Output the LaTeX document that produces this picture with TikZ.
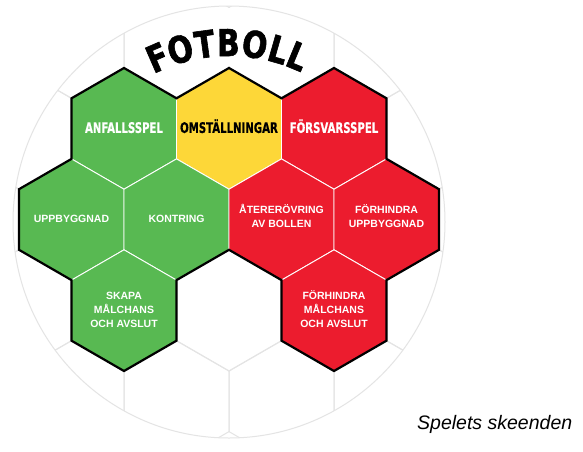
\documentclass[tikz,border=0pt]{standalone}
\usepackage{fontspec}
\newfontfamily\titlefont[FakeStretch=0.8,FakeBold=1.6]{DejaVu Sans}
\newfontfamily\headfont[FakeStretch=0.7,FakeBold=0.6]{DejaVu Sans}
\newfontfamily\bodyfont{Liberation Sans}
\usetikzlibrary{calc}
\definecolor{hgreen}{RGB}{88,185,82}
\definecolor{hyellow}{RGB}{253,215,56}
\definecolor{hred}{RGB}{236,28,46}
\definecolor{gridgrey}{RGB}{228,228,228}
\newcommand\hexpath[2]{({#1},{#2-60.6}) -- ({#1+52.5},{#2-30.3}) -- ({#1+52.5},{#2+30.3}) -- ({#1},{#2+60.6}) -- ({#1-52.5},{#2+30.3}) -- ({#1-52.5},{#2-30.3}) -- cycle}
\tikzset{
  gridline/.style={draw=gridgrey, line width=1pt},
  hexcell/.style={draw=white, line width=0.9pt},
  outline/.style={draw=black, line width=2.2pt, line join=miter},
  headlbl/.style={inner sep=0pt, anchor=south, font=\headfont\bfseries\fontsize{14.5}{16}\selectfont},
  bodylbl/.style={inner sep=0pt, anchor=south, align=center, text=white, font=\bodyfont\bfseries\fontsize{10.5}{13.8}\selectfont},
  titleletter/.style={inner sep=0pt, anchor=base, font=\titlefont\bfseries\fontsize{37}{40}\selectfont},
  captionlbl/.style={inner sep=0pt, anchor=base west, font=\bodyfont\itshape\fontsize{19.5}{22}\selectfont}
}
\begin{document}
\begin{tikzpicture}[x=1pt,y=-1pt]
\useasboundingbox (0,0) rectangle (583,451);
\fill[white] (0,0) rectangle (583,451);
% background ball grid
\begin{scope}
  \clip (229,222) circle [radius=216];
  \foreach \r in {0,...,4}{
    \foreach \k in {-3,...,3}{
      \pgfmathsetmacro\cx{229+105*\k+52.5*(1-mod(\r,2))}
      \pgfmathsetmacro\cy{128.6+90.9*(\r-1)}
      \draw[gridline] \hexpath{\cx}{\cy};
    }
  }
\end{scope}
\fill[white] (224.5,8) rectangle (233.5,66);
\draw[gridgrey, line width=1pt] (229,222) circle [radius=216];
% coloured cells
\path[fill=hgreen, hexcell] \hexpath{124}{128.6};
\path[fill=hyellow, hexcell] \hexpath{229}{128.6};
\path[fill=hred, hexcell] \hexpath{334}{128.6};
\path[fill=hgreen, hexcell] \hexpath{71.5}{219.5};
\path[fill=hgreen, hexcell] \hexpath{176.5}{219.5};
\path[fill=hred, hexcell] \hexpath{281.5}{219.5};
\path[fill=hred, hexcell] \hexpath{386.5}{219.5};
\path[fill=hgreen, hexcell] \hexpath{124}{310.4};
\path[fill=hred, hexcell] \hexpath{334}{310.4};
% outer outline
\draw[outline] (124,68) -- (176.5,98.3) -- (229,68) -- (281.5,98.3) -- (334,68) -- (386.5,98.3)
  -- (386.5,158.9) -- (439,189.2) -- (439,249.8) -- (386.5,280.1) -- (386.5,340.7) -- (334,371)
  -- (281.5,340.7) -- (281.5,280.1) -- (229,249.8) -- (176.5,280.1) -- (176.5,340.7) -- (124,371)
  -- (71.5,340.7) -- (71.5,280.1) -- (19,249.8) -- (19,189.2) -- (71.5,158.9) -- (71.5,98.3) -- cycle;
% header labels
\node[headlbl, text=white] (anfall) at (124,133.3) {ANFALLSSPEL};
\node[headlbl, text=black] (omst) at (229,133.3) {OMSTÄLLNINGAR};
\node[headlbl, text=white] (forsvar) at (334,133.3) {FÖRSVARSSPEL};
% body labels
\node[bodylbl] (uppb) at (71.5,222.5) {UPPBYGGNAD};
\node[bodylbl] (kontr) at (176.5,222.5) {KONTRING};
\node[bodylbl] (ater) at (281.5,228) {ÅTERERÖVRING\\AV BOLLEN};
\node[bodylbl] (forhupp) at (386.5,228) {FÖRHINDRA\\UPPBYGGNAD};
\node[bodylbl] (skapa) at (124,327.6) {SKAPA\\MÅLCHANS\\OCH AVSLUT};
\node[bodylbl] (forhmal) at (334,327.6) {FÖRHINDRA\\MÅLCHANS\\OCH AVSLUT};
% title
\foreach \l/\p/\n in {F/-23.5/t1, O/-15.8/t2, T/-7.8/t3, B/-0.2/t4, O/8.3/t5, L/16.0/t6, L/22.5/t7}{
  \node[titleletter, rotate=-\p] (\n) at ($(229,222)+(270+\p:166)$) {\l};
}
% caption
\node[captionlbl] (caption) at (417,429) {Spelets skeenden};
\end{tikzpicture}
\end{document}
